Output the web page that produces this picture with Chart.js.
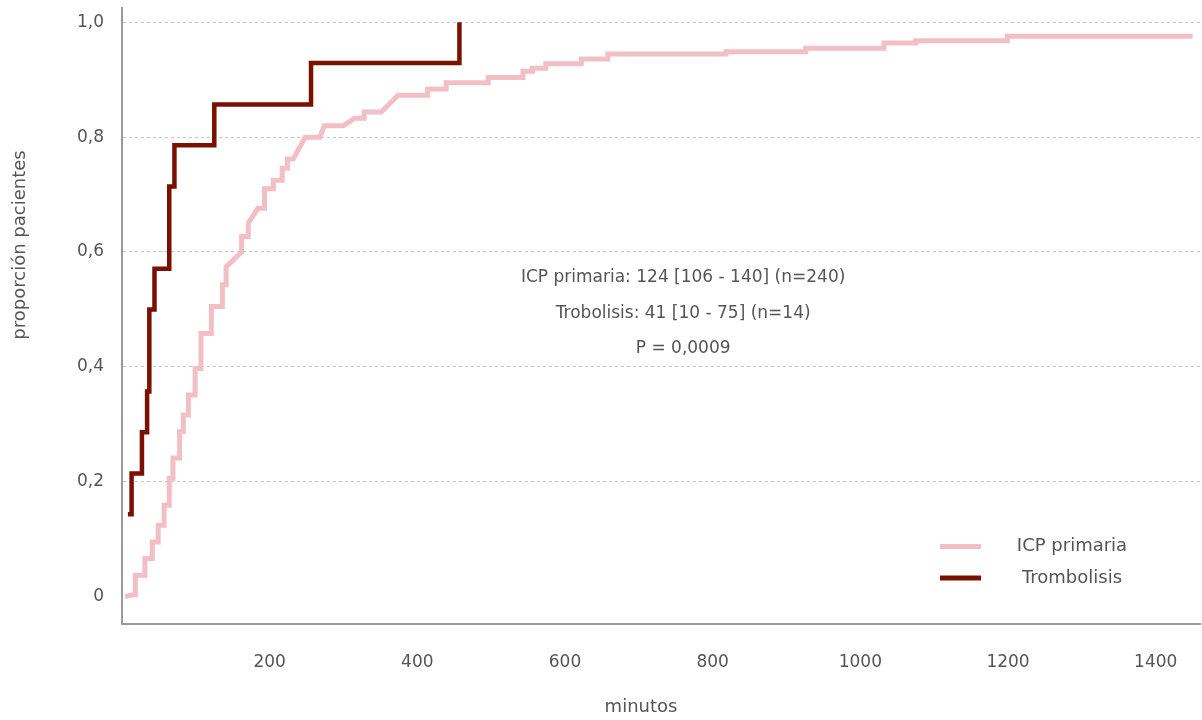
<!DOCTYPE html>
<html lang="es">
<head>
<meta charset="utf-8">
<title>Proporción de pacientes reperfundidos según el tiempo</title>
<script src="https://cdn.jsdelivr.net/npm/chart.js@4/dist/chart.umd.min.js"></script>
<style>
  html, body { margin: 0; padding: 0; background: #ffffff; }
  #wrap { position: relative; width: 1202px; height: 720px; }
</style>
</head>
<body>
<div id="wrap"><canvas id="grafico" width="1202" height="720"></canvas></div>
<script>
// Curva acumulada, ICP primaria: vértices (minutos, proporción)
const icpMinutos = [4, 15, 18, 18, 31, 31, 41, 41, 49, 49, 57, 57, 64, 64, 69, 69, 78, 78, 83, 83,
  90, 90, 99, 99, 107, 107, 121, 121, 136, 136, 141, 141, 162, 162, 171, 171, 184, 193, 193, 205,
  205, 217, 217, 224, 224, 232, 248, 268, 274, 300, 315, 328, 328, 351, 374, 414, 414, 439, 439, 496,
  496, 543, 543, 556, 556, 574, 574, 622, 622, 658, 658, 818, 818, 926, 926, 1032, 1032, 1075, 1075, 1199,
  1199, 1450];
const icpProporcion = [0, 0.003, 0.003, 0.037, 0.037, 0.066, 0.066, 0.095, 0.095, 0.124, 0.124, 0.159, 0.159, 0.206, 0.206, 0.241, 0.241, 0.287, 0.287, 0.316,
  0.316, 0.351, 0.351, 0.397, 0.397, 0.458, 0.458, 0.505, 0.505, 0.543, 0.543, 0.574, 0.600, 0.627, 0.627, 0.650, 0.676, 0.676, 0.710, 0.710,
  0.725, 0.725, 0.746, 0.746, 0.762, 0.762, 0.800, 0.800, 0.820, 0.820, 0.833, 0.833, 0.844, 0.844, 0.873, 0.873, 0.884, 0.884, 0.895, 0.895,
  0.904, 0.904, 0.915, 0.915, 0.920, 0.920, 0.928, 0.928, 0.936, 0.936, 0.945, 0.945, 0.949, 0.949, 0.955, 0.955, 0.964, 0.964, 0.968, 0.968,
  0.976, 0.976];

// Trombolisis (n=14): minuto de cada evento y proporción alcanzada
const trombMinutos = [8, 13, 27, 34, 37, 44, 64, 71, 125, 256, 457];
const trombProporcion = [0.143, 0.214, 0.286, 0.357, 0.5, 0.571, 0.714, 0.786, 0.857, 0.929, 1.0];

const serieNombres = ['ICP primaria', 'Trombolisis'];
const serieColores = ['#f2bfc4', '#7a1100'];

const yTicks = [0, 0.2, 0.4, 0.6, 0.8, 1.0];
const yTickEtiquetas = ['0', '0,2', '0,4', '0,6', '0,8', '1,0'];
const xTicks = [200, 400, 600, 800, 1000, 1200, 1400];

const notas = ['ICP primaria: 124 [106 - 140] (n=240)', 'Trobolisis: 41 [10 - 75] (n=14)', 'P = 0,0009'];
const tituloY = 'proporción pacientes';
const tituloX = 'minutos';

const FUENTE = '"DejaVu Sans", "Open Sans", sans-serif';
const GRIS_TEXTO = '#555555';

const pares = (xs, ys) => xs.map((v, i) => ({ x: v, y: ys[i] }));

// Títulos de ejes, notas centrales y leyenda
const textosPlugin = {
  id: 'textos',
  afterDraw(chart) {
    const { ctx, chartArea: a, scales: { x, y } } = chart;
    ctx.save();
    ctx.fillStyle = GRIS_TEXTO;
    ctx.textAlign = 'center';
    ctx.textBaseline = 'middle';
    ctx.font = '17px ' + FUENTE;

    // notas con la mediana y el valor p
    const nx = x.getPixelForValue(760);
    const ny = y.getPixelForValue(0.555);
    notas.forEach((t, i) => ctx.fillText(t, nx, ny + i * 35.5));

    // título del eje Y
    ctx.font = '18px ' + FUENTE;
    ctx.save();
    ctx.translate(20, a.top + 237);
    ctx.rotate(-Math.PI / 2);
    ctx.fillText(tituloY, 0, 0);
    ctx.restore();

    // título del eje X
    ctx.fillText(tituloX, a.left + 519, 707);

    // leyenda: ICP primaria arriba, Trombolisis debajo
    serieNombres.forEach((nombre, i) => {
      const ly = a.bottom - 77.5 + i * 31.5;
      ctx.strokeStyle = serieColores[i];
      ctx.lineWidth = 5;
      ctx.lineCap = 'butt';
      ctx.beginPath();
      ctx.moveTo(a.right - 260, ly);
      ctx.lineTo(a.right - 219, ly);
      ctx.stroke();
      ctx.fillText(nombre, a.right - 128, ly);
    });
    ctx.restore();
  }
};

new Chart(document.getElementById('grafico'), {
  type: 'line',
  data: {
    datasets: [
      {
        label: serieNombres[1],
        data: pares(trombMinutos, trombProporcion),
        borderColor: serieColores[1],
        borderWidth: 4.5,
        stepped: 'before',
        borderJoinStyle: 'miter',
        borderCapStyle: 'butt',
        pointRadius: 0,
        fill: false
      },
      {
        label: serieNombres[0],
        data: pares(icpMinutos, icpProporcion),
        borderColor: serieColores[0],
        borderWidth: 5,
        tension: 0,
        borderJoinStyle: 'miter',
        borderCapStyle: 'butt',
        pointRadius: 0,
        fill: false
      }
    ]
  },
  options: {
    responsive: false,
    animation: false,
    devicePixelRatio: 1,
    layout: { padding: { top: 8, right: 2, left: 0, bottom: 0 } },
    plugins: {
      legend: { display: false },
      tooltip: { enabled: false }
    },
    scales: {
      x: {
        type: 'linear',
        min: 0,
        max: 1460,
        afterBuildTicks: s => { s.ticks = xTicks.map(v => ({ value: v })); },
        afterFit: s => { s.height = 96; s.paddingLeft = 0; s.paddingRight = 0; },
        grid: { display: false },
        border: { display: true, color: '#9a9a9a', width: 2 },
        ticks: {
          autoSkip: false,
          maxRotation: 0,
          padding: 20,
          color: GRIS_TEXTO,
          font: { family: FUENTE, size: 17 },
          callback: v => String(v)
        }
      },
      y: {
        type: 'linear',
        min: -0.048,
        max: 1.025,
        afterBuildTicks: s => { s.ticks = yTicks.map(v => ({ value: v })); },
        afterFit: s => { s.width = 122; s.paddingTop = 0; s.paddingBottom = 0; },
        grid: {
          display: true,
          drawTicks: false,
          lineWidth: 1,
          color: c => (c.tick && c.tick.value === 0) ? 'rgba(0,0,0,0)' : '#c4c4c4'
        },
        border: { display: true, color: '#9a9a9a', width: 2, dash: [3, 3] },
        ticks: {
          autoSkip: false,
          padding: 18,
          color: GRIS_TEXTO,
          font: { family: FUENTE, size: 17 },
          callback: v => yTickEtiquetas[yTicks.indexOf(v)]
        }
      }
    }
  },
  plugins: [textosPlugin]
});
</script>
</body>
</html>
